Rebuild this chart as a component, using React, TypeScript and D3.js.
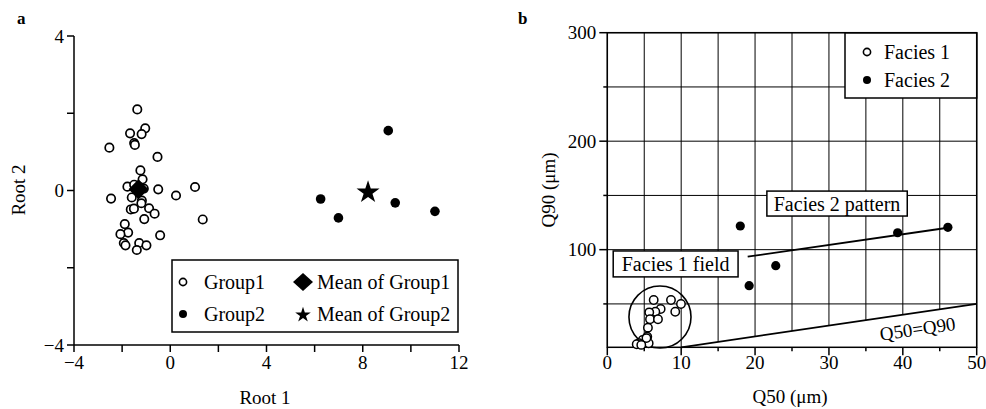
import React from 'react';
import * as d3 from 'd3';

// ---- panel a: discriminant scores ----
const group1 = [
  [-1.37, 2.1], [-1.04, 1.61], [-1.67, 1.48], [-1.19, 1.46], [-1.5, 1.23], [-1.47, 1.18],
  [-2.53, 1.11], [-0.53, 0.87], [-1.24, 0.52], [-1.15, 0.29], [-1.78, 0.1], [-0.5, 0.03],
  [1.03, 0.09], [0.24, -0.13], [-2.46, -0.21], [-1.6, -0.18], [-1.18, -0.26], [-1.2, -0.33],
  [-1.64, -0.49], [-1.51, -0.47], [-0.88, -0.46], [-0.65, -0.6], [-1.08, -0.74], [1.35, -0.75],
  [-1.89, -0.87], [-1.75, -1.09], [-2.07, -1.13], [-0.42, -1.16], [-1.93, -1.36], [-1.86, -1.42],
  [-1.29, -1.36], [-0.99, -1.42], [-1.39, -1.54], [-1.1, 0.05], [-1.5, 0.15]
];
const group2 = [[9.06, 1.55], [6.25, -0.22], [6.99, -0.71], [9.35, -0.32], [11.0, -0.54]];
const meanGroup1 = [-1.32, 0.03];
const meanGroup2 = [8.22, -0.02];
const aTicksX = [-4, -2, 0, 2, 4, 6, 8, 10, 12];
const aLabelsX = [-4, 0, 4, 8, 12];
const aTicksY = [-4, -2, 0, 2, 4];
const aLabelsY = [-4, 0, 4];

// ---- panel b: Q50 vs Q90 ----
const facies1 = [
  [6.28, 53.6], [8.62, 53.6], [9.97, 49.9], [7.22, 45.3], [6.5, 42.8], [5.68, 42.2],
  [9.2, 42.8], [5.78, 35.8], [6.86, 35.8], [5.5, 28.1], [5.41, 19.8], [4.79, 16.7],
  [4.29, 13.7], [3.98, 12.8], [5.6, 13.7], [5.3, 18.5], [4.6, 12.2]
];
const facies2 = [[18.0, 121.8], [39.3, 115.6], [46.1, 120.6], [22.8, 85.2], [19.2, 66.8]];
const pattern2 = [[19.0, 93.5], [46.1, 120.2]];
const oneToOne = [[10, 10], [50, 50]];
const field1 = { cx: 7.13, cy: 37.9, r: 4.2 };
const bTicksX = [0, 5, 10, 15, 20, 25, 30, 35, 40, 45, 50];
const bTicksY = [50, 100, 150, 200, 250, 300];
const bLabelsX = [0, 10, 20, 30, 40, 50];
const bLabelsY = [100, 200, 300];

const FONT = '"Liberation Serif", "Times New Roman", serif';

const xa = d3.scaleLinear().domain([-4, 12]).range([74, 459]);
const ya = d3.scaleLinear().domain([-4, 4]).range([345, 36]);
const xb = d3.scaleLinear().domain([0, 50]).range([607.3, 976.7]);
const yb = d3.scaleLinear().domain([10, 300]).range([347.3, 32.7]);

const starPath = (size: number) => d3.symbol(d3.symbolStar, size)()!;
const diamond = (w: number, h: number) => `M0,${-h}L${w},0L0,${h}L${-w},0Z`;
const minus = (t: number) => (t < 0 ? '\u2212' + Math.abs(t) : String(t));

export default function App() {
  const line = d3.line();
  const slope = Math.atan2(yb(50) - yb(10), xb(50) - xb(10)) * 180 / Math.PI;
  // area under the 1:1 line is left blank (no grid)
  const below = [...oneToOne, [50, 10]].map(d => [xb(d[0]), yb(d[1])] as [number, number]);

  return (
    <svg width={986} height={409} style={{ position: 'absolute', left: 0, top: 0, background: '#fff' }}
      fontFamily={FONT} fontSize={19}>
      {/* ================= panel a ================= */}
      <text x={17} y={24} fontWeight="bold" fontSize={17}>a</text>
      <g stroke="#000" strokeWidth={1.5}>
        <line x1={xa(-4)} x2={xa(-4)} y1={ya(4)} y2={ya(-4)} />
        <line x1={xa(-4)} x2={xa(12)} y1={ya(-4)} y2={ya(-4)} />
        {aTicksY.map(t => <line key={'ay' + t} x1={xa(-4) - 7} x2={xa(-4)} y1={ya(t)} y2={ya(t)} />)}
        {aTicksX.map(t => <line key={'ax' + t} x1={xa(t)} x2={xa(t)} y1={ya(-4)} y2={ya(-4) + 7} />)}
      </g>
      {aLabelsY.map(t => (
        <text key={'aly' + t} x={xa(-4) - 10} y={ya(t)} textAnchor="end" dominantBaseline="central">{minus(t)}</text>
      ))}
      {aLabelsX.map(t => (
        <text key={'alx' + t} x={xa(t)} y={369} textAnchor="middle">{minus(t)}</text>
      ))}
      <text x={265} y={404} textAnchor="middle">Root 1</text>
      <text transform="translate(25,190) rotate(-90)" textAnchor="middle">Root 2</text>

      {group1.map((d, i) => (
        <circle key={'g1' + i} cx={xa(d[0])} cy={ya(d[1])} r={4.2} fill="#fff" stroke="#000" strokeWidth={1.7} />
      ))}
      {group2.map((d, i) => (
        <circle key={'g2' + i} cx={xa(d[0])} cy={ya(d[1])} r={4.8} fill="#000" />
      ))}
      <path d={diamond(10, 10)} transform={`translate(${xa(meanGroup1[0])},${ya(meanGroup1[1])})`} fill="#000" />
      <path d={starPath(165)} transform={`translate(${xa(meanGroup2[0])},${ya(meanGroup2[1]) + 1})`} fill="#000" />

      {/* legend a */}
      <rect x={172} y={260} width={286} height={72} fill="#fff" stroke="#000" strokeWidth={1.5} />
      <circle cx={183} cy={282} r={3.6} fill="#fff" stroke="#000" strokeWidth={1.6} />
      <text x={204} y={282} dominantBaseline="central" fontSize={20}>Group1</text>
      <circle cx={183} cy={314} r={4} fill="#000" />
      <text x={204} y={314} dominantBaseline="central" fontSize={20}>Group2</text>
      <path d={diamond(10, 9)} transform="translate(303,282)" fill="#000" />
      <text x={317} y={282} dominantBaseline="central" fontSize={20}>Mean of  Group1</text>
      <path d={starPath(75)} transform="translate(303,315)" fill="#000" />
      <text x={317} y={314} dominantBaseline="central" fontSize={20}>Mean of  Group2</text>

      {/* ================= panel b ================= */}
      <text x={518} y={24} fontWeight="bold" fontSize={17}>b</text>
      <g stroke="#000" strokeWidth={1}>
        {bTicksX.map(t => <line key={'gx' + t} x1={xb(t)} x2={xb(t)} y1={yb(10)} y2={yb(300)} />)}
        {bTicksY.map(t => <line key={'gy' + t} x1={xb(0)} x2={xb(50)} y1={yb(t)} y2={yb(t)} />)}
      </g>
      <path d={line(below) + 'Z'} fill="#fff" stroke="none" />
      <rect x={xb(0)} y={yb(300)} width={xb(50) - xb(0)} height={yb(10) - yb(300)} fill="none" stroke="#000" strokeWidth={1.5} />
      <g stroke="#000" strokeWidth={1.5}>
        {bTicksX.map(t => (
          <line key={'bx' + t} x1={xb(t)} x2={xb(t)} y1={yb(10)} y2={yb(10) + (t % 10 === 0 ? 8 : 4)} />
        ))}
        {bTicksY.map(t => (
          <line key={'by' + t} x1={xb(0) - (t % 100 === 0 ? 8 : 4)} x2={xb(0)} y1={yb(t)} y2={yb(t)} />
        ))}
      </g>
      {bLabelsX.map(t => <text key={'blx' + t} x={xb(t)} y={369} textAnchor="middle">{t}</text>)}
      {bLabelsY.map(t => (
        <text key={'bly' + t} x={xb(0) - 11} y={yb(t)} textAnchor="end" dominantBaseline="central">{t}</text>
      ))}
      <text x={790} y={403} textAnchor="middle">Q50 (μm)</text>
      <text transform="translate(555,190) rotate(-90)" textAnchor="middle">Q90 (μm)</text>

      {/* reference lines */}
      <path d={line(oneToOne.map(d => [xb(d[0]), yb(d[1])]))!} stroke="#000" strokeWidth={1.8} fill="none" />
      <path d={line(pattern2.map(d => [xb(d[0]), yb(d[1])]))!} stroke="#000" strokeWidth={1.8} fill="none" />
      <circle cx={xb(field1.cx)} cy={yb(field1.cy)} r={xb(field1.r) - xb(0)} fill="none" stroke="#000" strokeWidth={1.6} />

      {facies1.map((d, i) => (
        <circle key={'f1' + i} cx={xb(d[0])} cy={yb(d[1])} r={4.2} fill="#fff" stroke="#000" strokeWidth={1.5} />
      ))}
      {facies2.map((d, i) => (
        <circle key={'f2' + i} cx={xb(d[0])} cy={yb(d[1])} r={4.6} fill="#000" />
      ))}

      {/* annotations */}
      <rect x={xb(0.8)} y={yb(98.8)} width={xb(17.7) - xb(0.8)} height={yb(74.9) - yb(98.8)} fill="#fff" stroke="#000" strokeWidth={1.5} />
      <text x={(xb(0.8) + xb(17.7)) / 2} y={(yb(98.8) + yb(74.9)) / 2} textAnchor="middle" dominantBaseline="central" fontSize={20}>Facies 1 field</text>
      <rect x={xb(21.6)} y={yb(154)} width={xb(40.6) - xb(21.6)} height={yb(131) - yb(154)} fill="#fff" stroke="#000" strokeWidth={1.5} />
      <text x={(xb(21.6) + xb(40.6)) / 2} y={(yb(154) + yb(131)) / 2} textAnchor="middle" dominantBaseline="central" fontSize={20}>Facies 2 pattern</text>
      <text transform={`translate(${xb(42)},${yb(27)}) rotate(${slope})`} textAnchor="middle" dominantBaseline="central" fontSize={19}>Q50=Q90</text>

      {/* legend b */}
      <rect x={845} y={33} width={131.7} height={65} fill="#fff" stroke="#000" strokeWidth={1.5} />
      <circle cx={867} cy={52} r={3.6} fill="#fff" stroke="#000" strokeWidth={1.6} />
      <text x={884} y={52} dominantBaseline="central" fontSize={20}>Facies 1</text>
      <circle cx={867} cy={80} r={4} fill="#000" />
      <text x={884} y={80} dominantBaseline="central" fontSize={20}>Facies 2</text>
    </svg>
  );
}
